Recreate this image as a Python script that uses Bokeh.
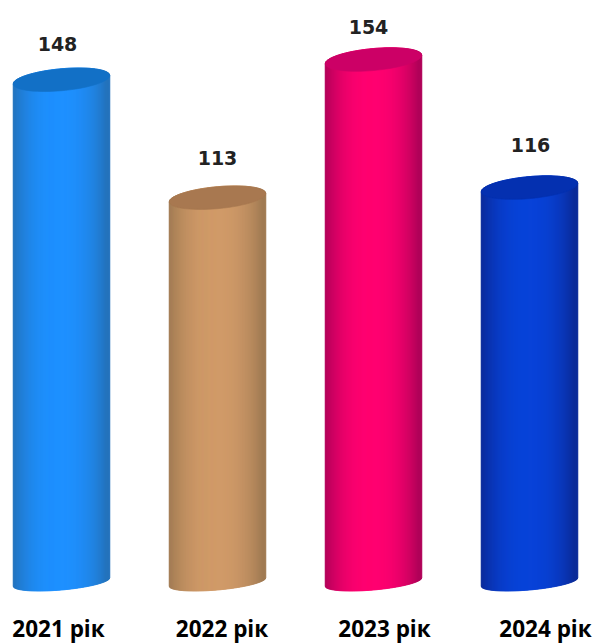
import numpy as np
from bokeh.plotting import figure
from bokeh.embed import file_html
from bokeh.resources import INLINE
from bokeh.models import ColumnDataSource, Range1d
from bokeh.core.properties import value

categories = ["2021 рік", "2022 рік", "2023 рік", "2024 рік"]
values = [148, 113, 154, 116]
value_labels = ["148", "113", "154", "116"]

# styling
edge_colors = ["#2272BC", "#A07A52", "#B00058", "#0A2A98"]
centre_colors = ["#1E90FF", "#D09A68", "#FF0070", "#0842D8"]
cap_colors = ["#1270C6", "#A87850", "#CC0066", "#0430B0"]
label_dx = [-4, 0, -5, 1]
label_dy = [36, 40, 33, 43]
cat_dx = [-3, 4.5, 11, 16]

W, H = 595, 643
PX_PER_CAT, PX_PER_VAL = 156.0, 3.37
X0_PX, Y0_PX = 61.0, 65.0
BAR_W = 96.5 / PX_PER_CAT
RX = 48.2
RY = 11.0
RY_BASE = 8.0
BASE_DROP = 3.5
TILT = np.deg2rad(5.0)

p = figure(width=W, height=H, output_backend="svg", toolbar_location=None,
           x_range=Range1d(-X0_PX / PX_PER_CAT, (W - X0_PX) / PX_PER_CAT),
           y_range=Range1d(-Y0_PX / PX_PER_VAL, (H - Y0_PX) / PX_PER_VAL),
           min_border=0)
p.axis.visible = False
p.grid.visible = False
p.outline_line_color = None


def hexrgb(c):
    return np.array([int(c[i:i + 2], 16) for i in (1, 3, 5)], dtype=float)


def mix(a, b, t):
    r = hexrgb(a) * (1 - t) + hexrgb(b) * t
    return "#%02x%02x%02x" % tuple(int(round(v)) for v in r)


def rim(u, sign, ry):
    """vertical offset (px) of a tilted elliptical rim at normalised x u in [-1, 1]"""
    return sign * ry * np.sqrt(np.clip(1 - u * u, 0, 1)) + RX * u * np.tan(TILT)


N = 96
edges = np.linspace(-1, 1, N + 1)
for i, v in enumerate(values):
    xs, ys, cols = [], [], []
    for a, b in zip(edges[:-1], edges[1:]):
        m = (a + b) / 2
        t = 1 - min(abs(m + 0.03) / 0.97, 1) ** 2.4
        cols.append(mix(edge_colors[i], centre_colors[i], t))
        ua = np.linspace(a, b, 3)
        xx = i + ua * BAR_W / 2
        top = v + rim(ua, 1, RY) / PX_PER_VAL
        bot = (rim(ua, -1, RY_BASE) - BASE_DROP) / PX_PER_VAL
        xs.append(list(xx) + list(xx[::-1]))
        ys.append(list(top) + list(bot[::-1]))
    p.patches(xs, ys, fill_color=cols, line_color=cols, line_width=1)
    th = np.linspace(0, 2 * np.pi, 73)
    ux = np.cos(th)
    uy = RY * np.sin(th) + RX * ux * np.tan(TILT)
    p.patch(i + ux * BAR_W / 2, v + uy / PX_PER_VAL, fill_color=cap_colors[i],
            line_color=cap_colors[i], line_width=0.6)

lab = ColumnDataSource(dict(x=list(range(4)), y=values, t=value_labels,
                            dx=label_dx, dy=[-d for d in label_dy]))
p.text("x", "y", text="t", source=lab, x_offset="dx", y_offset="dy",
       text_align="center", text_baseline="middle",
       text_font=value("DejaVu Sans"), text_font_style="bold", text_font_size="19px",
       text_color="#222222")

cat = ColumnDataSource(dict(x=list(range(4)), y=[0] * 4, t=categories, dx=cat_dx))
p.text("x", "y", text="t", source=cat, x_offset="dx", y_offset=50,
       text_align="center", text_baseline="middle",
       text_font=value("Open Sans"), text_font_style="bold", text_font_size="22.5px",
       text_color="#000000")

open("out.html", "w").write(file_html(p, INLINE))
